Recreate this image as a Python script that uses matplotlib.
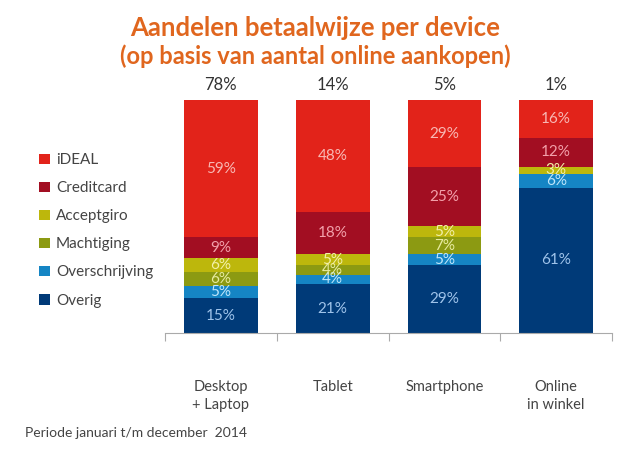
import matplotlib.pyplot as plt
import numpy as np

categories = ['Desktop\n+ Laptop', 'Tablet', 'Smartphone', 'Online\nin winkel']
device_share = ['78%', '14%', '5%', '1%']

# bottom -> top
series = ['Overig', 'Overschrijving', 'Machtiging', 'Acceptgiro', 'Creditcard', 'iDEAL']
overig = [15, 21, 29, 61]
overschrijving = [5, 4, 5, 6]
machtiging = [6, 4, 7, 0]
acceptgiro = [6, 5, 5, 3]
creditcard = [9, 18, 25, 12]
ideal = [59, 48, 29, 16]

colors = ['#003a78', '#1585c4', '#8c9a12', '#bdb70c', '#a20e22', '#e2231a']
text_colors = ['#9fc3ea', '#bfe6fb', '#e8eba0', '#f3f0a8', '#f2a0aa', '#f8b8b4']

data = np.array([overig, overschrijving, machtiging, acceptgiro, creditcard, ideal], dtype=float)
heights = data / data.sum(axis=0) * 100

plt.rcParams['font.family'] = ['Lato', 'DejaVu Sans']

fig = plt.figure(figsize=(6.3, 4.5), dpi=100)
ax = fig.add_axes([0.262, 0.26, 0.7095, 0.518])

x = np.arange(len(categories))
bottom = np.zeros(len(categories))
for i, name in enumerate(series):
    ax.bar(x, heights[i], 0.66, bottom=bottom, color=colors[i], label=name)
    for j in range(len(categories)):
        if data[i, j] > 0:
            ax.text(x[j], bottom[j] + heights[i, j] / 2, f'{int(data[i, j])}%',
                    ha='center', va='center', fontsize=11, color=text_colors[i])
    bottom += heights[i]

for j, s in enumerate(device_share):
    ax.text(x[j], 103, s, ha='center', va='bottom', fontsize=12, color='#333333')

ax.set_xlim(-0.5, 3.5)
ax.set_ylim(0, 100)
for sp in ['top', 'right', 'left']:
    ax.spines[sp].set_visible(False)
ax.spines['bottom'].set_color('#aaaaaa')
ax.set_yticks([])
ax.set_xticks(np.arange(-0.5, 4, 1))
ax.set_xticklabels([])
ax.tick_params(axis='x', length=6, color='#aaaaaa', direction='out')

for j, c in enumerate(categories):
    ax.text(x[j], -20, c, ha='center', va='top', fontsize=10.5, color='#444444',
            linespacing=1.4, clip_on=False)

handles, labels = ax.get_legend_handles_labels()
fig.legend(handles[::-1], labels[::-1], loc='upper left', bbox_to_anchor=(0.04, 0.69),
           frameon=False, fontsize=11, labelcolor='#444444', handlelength=0.7,
           handleheight=0.7, handletextpad=0.4, labelspacing=0.92)

fig.text(0.5, 0.938, 'Aandelen betaalwijze per device', ha='center', va='center',
         fontsize=18.5, fontweight='bold', color='#e0661e')
fig.text(0.5, 0.876, '(op basis van aantal online aankopen)', ha='center', va='center',
         fontsize=17, fontweight='bold', color='#e0661e')
fig.text(0.04, 0.038, 'Periode januari t/m december  2014', ha='left', va='center',
         fontsize=10, color='#444444')

fig.savefig('out.png', dpi=100)
